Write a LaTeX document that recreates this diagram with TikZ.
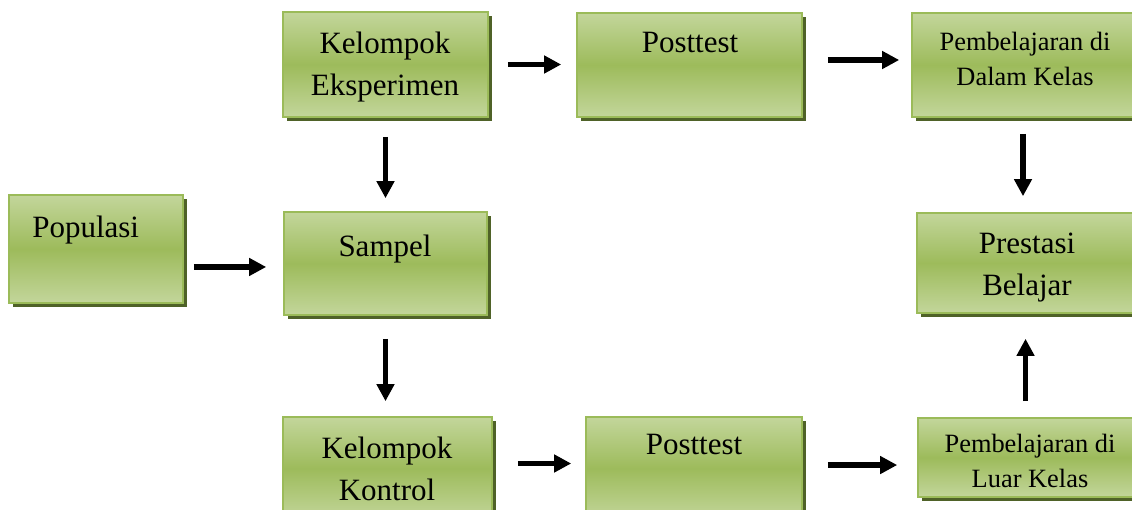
\documentclass[tikz,border=0pt]{standalone}
\usepackage{fontspec}
\setmainfont{Liberation Serif}
\usetikzlibrary{shadows,arrows.meta}
\definecolor{boxlight}{HTML}{C3D69B}
\definecolor{boxmid}{HTML}{9DBB5B}
\definecolor{boxedge}{HTML}{9BBB59}
\definecolor{boxshadow}{HTML}{4F6228}
\tikzset{
  box/.style={rectangle, inner sep=0pt, draw=boxedge, line width=1.2pt,
    top color=boxlight, bottom color=boxlight, middle color=boxmid,
    drop shadow={shadow xshift=3pt, shadow yshift=-3pt, fill=boxshadow, opacity=1}},
  lbl/.style={inner sep=0pt, align=center, anchor=base,
    font=\fontsize{23.25pt}{31.5pt}\selectfont},
  slbl/.style={inner sep=0pt, align=center, anchor=base,
    font=\fontsize{19.8pt}{26.25pt}\selectfont},
  arr/.style={line width=4.2pt, -{Triangle[length=12.75pt, width=12.75pt]}}
}
\begin{document}
\begin{tikzpicture}[x=0.75pt, y=-0.75pt]
\useasboundingbox (0,0) rectangle (1132,510);
\clip (0,0) rectangle (1132,510);

% boxes
\node[box, minimum width=130.5pt, minimum height=81pt]    (pop) at (96,249) {};
\node[box, minimum width=153.75pt, minimum height=78.75pt] (ke)  at (385.5,64.5) {};
\node[box, minimum width=168.75pt, minimum height=78pt]   (pt1) at (689.5,65) {};
\node[box, minimum width=169.5pt, minimum height=78pt]    (pdk) at (1025,65) {};
\node[box, minimum width=152.25pt, minimum height=77.25pt] (sam) at (385.5,263.5) {};
\node[box, minimum width=165.75pt, minimum height=75pt]   (pb)  at (1027.5,263) {};
\node[box, minimum width=156.75pt, minimum height=77.25pt] (kk)  at (387.5,468.5) {};
\node[box, minimum width=162pt, minimum height=77.25pt]   (pt2) at (694,468.5) {};
\node[box, minimum width=166.5pt, minimum height=59.25pt] (plk) at (1029,457.5) {};

% labels (base anchor = baseline of the last line)
\node[lbl, anchor=base west] (popt) at (32,237) {Populasi};
\node[lbl] (ket)  at (385,95)  {Kelompok\\Eksperimen};
\node[lbl] (pt1t) at (690,53)  {Posttest};
\node[slbl] (pdkt) at (1025,85) {Pembelajaran di\\Dalam Kelas};
\node[lbl] (samt) at (385,256) {Sampel};
\node[lbl] (pbt)  at (1027,295) {Prestasi\\Belajar};
\node[lbl] (kkt)  at (387,500) {Kelompok\\Kontrol};
\node[lbl] (pt2t) at (694,454) {Posttest};
\node[slbl] (plkt) at (1030,487) {Pembelajaran di\\Luar Kelas};

% connectors
\draw[arr, shorten <=7.5pt, shorten >=12.75pt]
  ([yshift=-2.6pt]pop.east |- sam.west) -- ([yshift=-2.6pt]sam.west);
\draw[arr, shorten <=14.25pt, shorten >=11.25pt] (ke.east) -- (ke.east -| pt1.west);
\draw[arr, shorten <=18.75pt, shorten >=9pt]
  ([yshift=3.75pt]pt1.east) -- ([yshift=3.75pt]pt1.east -| pdk.west);
\draw[arr, shorten <=14.25pt, shorten >=9.75pt] (ke.south) -- (ke.south |- sam.north);
\draw[arr, shorten <=17.25pt, shorten >=11.25pt] (sam.south) -- (sam.south |- kk.north);
\draw[arr, shorten <=12pt, shorten >=12pt]
  ([xshift=-1.5pt]pdk.south) -- ([xshift=-1.5pt]pdk.south |- pb.north);
\draw[arr, shorten <=12pt, shorten >=18.75pt]
  ([xshift=-2.6pt]plk.north) -- ([xshift=-2.6pt]plk.north |- pb.south);
\draw[arr, shorten <=18.75pt, shorten >=10.5pt]
  ([yshift=3.75pt]kk.east) -- ([yshift=3.75pt]kk.east -| pt2.west);
\draw[arr, shorten <=18.75pt, shorten >=15pt]
  ([yshift=2.6pt]pt2.east) -- ([yshift=2.6pt]pt2.east -| plk.west);
\end{tikzpicture}
\end{document}
